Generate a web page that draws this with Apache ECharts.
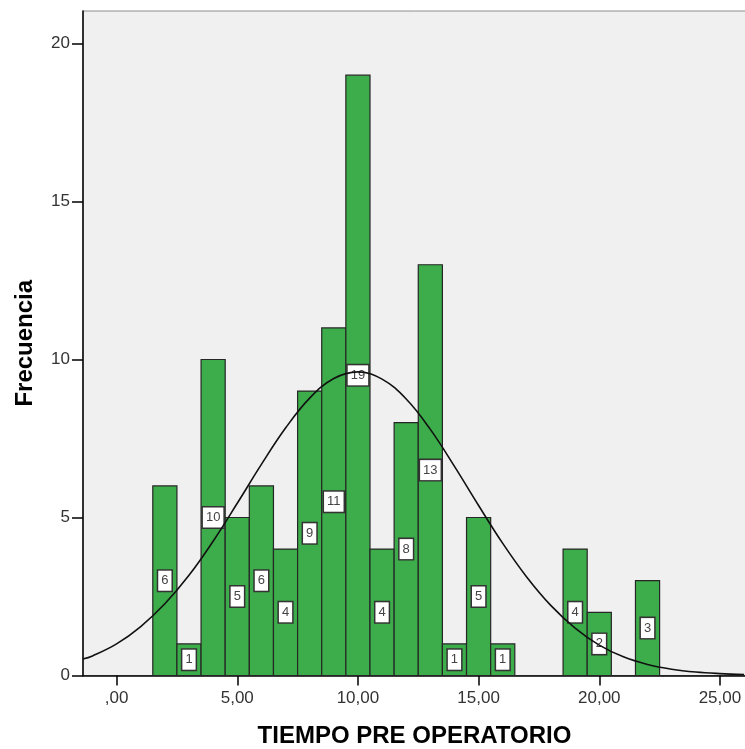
<!DOCTYPE html>
<html><head><meta charset="utf-8">
<script src="https://cdn.jsdelivr.net/npm/echarts@6/dist/echarts.min.js"></script>
<style>html,body{margin:0;padding:0;background:#fff}#c{width:745px;height:749px}</style>
</head><body><div id="c"></div>
<script>
const binCenters = [2,3,4,5,6,7,8,9,10,11,12,13,14,15,16,19,20,22];
const frequencies = [6,1,10,5,6,4,9,11,19,4,8,13,1,5,1,4,2,3];
const curveX = [-1.4,-1,0,1,2,3,4,5,6,7,8,9,10,11,12,13,14,15,16,17,18,19,20,21,22,23,24,25,26];
const curveY = [0.52,0.62,1.0,1.55,2.27,3.17,4.25,5.45,6.68,7.83,8.78,9.40,9.61,9.38,8.75,7.79,6.62,5.38,4.18,3.11,2.21,1.50,0.96,0.59,0.35,0.20,0.11,0.06,0.03];
const xTickValues = [0,5,10,15,20,25];
const xTickLabels = [',00','5,00','10,00','15,00','20,00','25,00'];
const yTickValues = [0,5,10,15,20];

const chart = echarts.init(document.getElementById('c'), null, {renderer:'canvas'});
const FONT = 'Liberation Sans, Arial, sans-serif';
chart.setOption({
  animation: false,
  grid: {left: 83, right: -1, top: 11, bottom: 73.5, show: true, backgroundColor: '#f0f0f0',
         borderColor: '#8c8c8c', borderWidth: 1, containLabel: false, outerBoundsMode: 'none'},
  xAxis: {
    type: 'value', min: -1.392, max: 26.08,
    name: 'TIEMPO PRE OPERATORIO', nameLocation: 'middle', nameGap: 49,
    nameTextStyle: {fontSize: 24, fontWeight: 'bold', color: '#000', fontFamily: FONT},
    axisLine: {show: true, onZero: false, lineStyle: {color: '#000', width: 1.5}},
    axisTick: {show: true, length: 10, customValues: xTickValues, lineStyle: {color: '#000', width: 1.5}},
    axisLabel: {customValues: xTickValues, margin: 14, fontSize: 17, color: '#333', fontFamily: FONT,
      formatter: v => xTickLabels[xTickValues.indexOf(v)]},
    splitLine: {show: false}
  },
  yAxis: {
    type: 'value', min: 0, max: 21.03,
    name: 'Frecuencia', nameLocation: 'middle', nameGap: 46,
    nameTextStyle: {fontSize: 24, fontWeight: 'bold', color: '#000', fontFamily: FONT},
    axisLine: {show: true, onZero: false, lineStyle: {color: '#000', width: 1.5}},
    axisTick: {show: true, length: 11, customValues: yTickValues, lineStyle: {color: '#000', width: 1.5}},
    axisLabel: {customValues: yTickValues, margin: 13, fontSize: 17, color: '#333', fontFamily: FONT},
    splitLine: {show: false}
  },
  series: [
    {
      type: 'custom', z: 2,
      data: binCenters.map((x, i) => [x, frequencies[i]]),
      renderItem: function (params, api) {
        const x = api.value(0), f = api.value(1);
        const p0 = api.coord([x - 0.5, f]);
        const p1 = api.coord([x + 0.5, 0]);
        const mid = api.coord([x, f / 2]);
        return {type: 'group', children: [
          {type: 'rect', shape: {x: p0[0], y: p0[1], width: p1[0] - p0[0], height: p1[1] - p0[1]},
           style: {fill: '#3cad4a', stroke: '#262626', lineWidth: 1.2}},
          {type: 'text', x: mid[0], y: mid[1], z2: 10,
           style: {text: String(f), align: 'center', verticalAlign: 'middle', fontSize: 13, fill: '#444',
                   fontFamily: FONT, backgroundColor: '#fff', borderColor: '#333', borderWidth: 1.5,
                   padding: [4, 3, 3, 3]}}
        ]};
      }
    },
    {
      type: 'line', z: 5, smooth: 0.4, showSymbol: false, symbol: 'none',
      data: curveX.map((x, i) => [x, curveY[i]]),
      lineStyle: {color: '#111', width: 1.6}
    }
  ]
});
</script>
</body></html>
